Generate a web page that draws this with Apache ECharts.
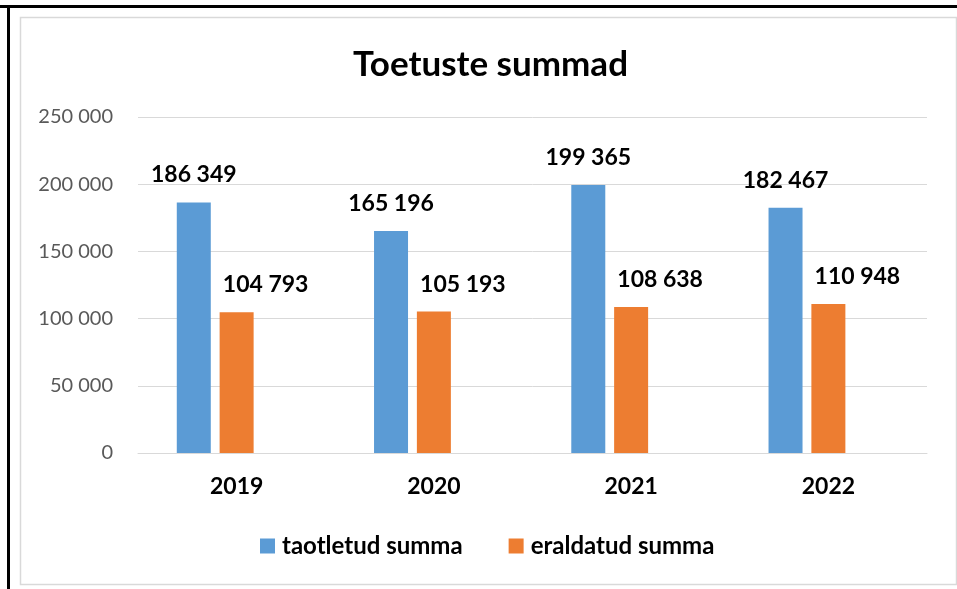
<!DOCTYPE html>
<html>
<head>
<meta charset="utf-8">
<script src="https://cdn.jsdelivr.net/npm/echarts@6/dist/echarts.min.js"></script>
<style>
  html, body { margin: 0; padding: 0; background: #fff; }
  #chart { width: 957px; height: 589px; }
</style>
</head>
<body>
<div id="chart"></div>
<script>
var years = ['2019', '2020', '2021', '2022'];
var taotletud = [186349, 165196, 199365, 182467];
var eraldatud = [104793, 105193, 108638, 110948];
var yTicks = { min: 0, max: 250000, interval: 50000 };

// tühikuga tuhandete eraldaja
function fmt(v) {
    return String(v).replace(/\B(?=(\d{3})+(?!\d))/g, ' ');
}

var myChart = echarts.init(document.getElementById('chart'));
var font = 'Lato';

var option = {
    backgroundColor: '#fff',
    animation: false,
    title: {
        text: 'Toetuste summad',
        left: 348,
        top: 42,
        textStyle: { fontFamily: font, fontWeight: 'bold', fontSize: 35, color: '#000' }
    },
    legend: {
        data: ['taotletud summa', 'eraldatud summa'],
        left: 255,
        top: 529,
        itemWidth: 15,
        itemHeight: 15,
        itemGap: 46,
        icon: 'rect',
        textStyle: { fontFamily: font, fontWeight: 'bold', fontSize: 24, color: '#000', padding: [0, 0, 0, 2] }
    },
    grid: { left: 138, right: 30, top: 117, bottom: 136 },
    xAxis: {
        type: 'category',
        data: years,
        axisLine: { lineStyle: { color: '#d9d9d9', width: 1 } },
        axisTick: { show: false },
        axisLabel: { fontFamily: font, fontWeight: 'bold', fontSize: 23, color: '#000', margin: 22 }
    },
    yAxis: {
        type: 'value',
        min: yTicks.min,
        max: yTicks.max,
        interval: yTicks.interval,
        axisLine: { show: false },
        axisTick: { show: false },
        splitLine: { lineStyle: { color: '#d9d9d9', width: 1 } },
        axisLabel: { fontFamily: font, fontSize: 20, color: '#595959', margin: 25, formatter: fmt }
    },
    graphic: [
        { type: 'rect', shape: { x: 20.5, y: 17.5, width: 936, height: 567 },
          style: { fill: 'none', stroke: '#d9d9d9', lineWidth: 1.5 }, silent: true },
        { type: 'rect', shape: { x: 0, y: 5, width: 957, height: 3 }, style: { fill: '#000' }, silent: true },
        { type: 'rect', shape: { x: 7, y: 5, width: 3, height: 584 }, style: { fill: '#000' }, silent: true }
    ],
    series: [
        {
            name: 'taotletud summa',
            type: 'bar',
            data: taotletud,
            barWidth: 34,
            barGap: '26%',
            itemStyle: { color: '#5b9bd5' },
            label: {
                show: true, position: 'top', distance: 16,
                fontFamily: font, fontWeight: 'bold', fontSize: 23, color: '#000',
                formatter: function (p) { return fmt(p.value); }
            }
        },
        {
            name: 'eraldatud summa',
            type: 'bar',
            data: eraldatud,
            barWidth: 34,
            barGap: '26%',
            itemStyle: { color: '#ed7d31' },
            label: {
                show: true, position: 'top', distance: 16, offset: [29, 0],
                fontFamily: font, fontWeight: 'bold', fontSize: 23, color: '#000',
                formatter: function (p) { return fmt(p.value); }
            }
        },
        {
            // tühi kolmas seeria nagu Exceli originaalis
            name: 'tühi',
            type: 'bar',
            data: [null, null, null, null],
            barWidth: 34,
            barGap: '26%'
        }
    ]
};

myChart.setOption(option);
window.addEventListener('resize', function () {
    myChart.resize();
});
</script>
</body>
</html>
